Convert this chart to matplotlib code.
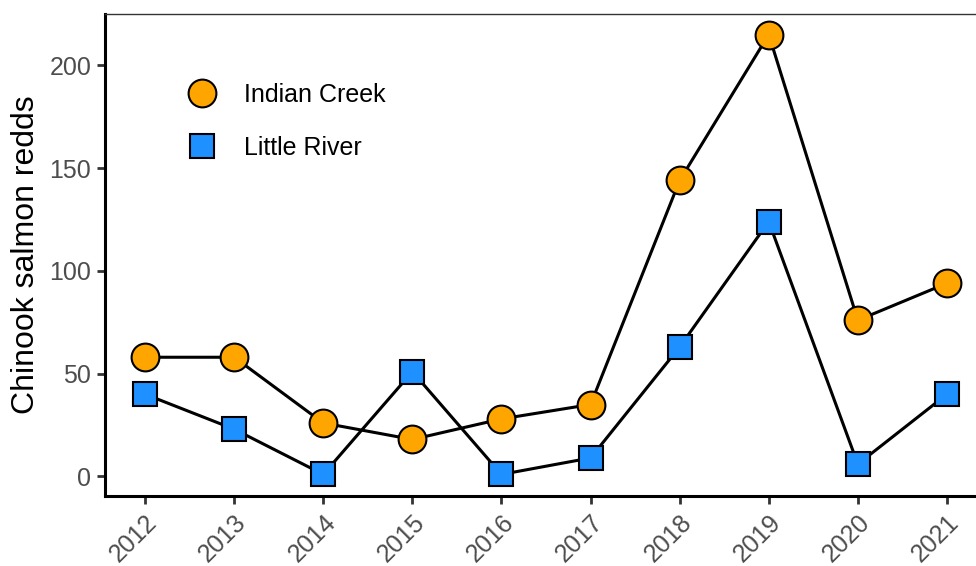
import matplotlib.pyplot as plt

plt.rcParams['font.family'] = ['Liberation Sans', 'DejaVu Sans']

# --- data ---
years = [2012, 2013, 2014, 2015, 2016, 2017, 2018, 2019, 2020, 2021]
indian_creek = [58, 58, 26, 18, 28, 35, 144, 215, 76, 94]
little_river = [40, 23, 1, 51, 1, 9, 63, 124, 6, 40]
yticks = [0, 50, 100, 150, 200]

fig = plt.figure(figsize=(9.76, 5.66), dpi=100)
ax = fig.add_axes([0.1076, 0.1237, 0.9037, 0.8516])

ax.plot(years, indian_creek, color="black", lw=2.2, zorder=2)
ax.plot(years, little_river, color="black", lw=2.2, zorder=2)
ax.plot(years, indian_creek, ls="none", marker="o", ms=20, mfc="#FFA500",
        mec="black", mew=1.5, zorder=3, label="Indian Creek")
ax.plot(years, little_river, ls="none", marker="s", ms=17.5, mfc="#1E90FF",
        mec="black", mew=1.5, zorder=3, label="Little River")

ax.set_xlim(2011.55, 2021.45)
ax.set_ylim(-9.5, 225)
ax.set_xticks(years)
ax.set_xticklabels([str(y) for y in years], rotation=45, ha="right",
                   rotation_mode="anchor")
ax.set_yticks(yticks)
ax.tick_params(axis="both", labelsize=18, labelcolor="#4D4D4D",
               color="#333333", length=6, width=2, pad=4)
ax.set_ylabel("Chinook salmon redds", fontsize=23, labelpad=6)

for side in ["left", "bottom"]:
    ax.spines[side].set_linewidth(2.2)
    ax.spines[side].set_color("black")
ax.spines["top"].set_linewidth(1.0)
ax.spines["top"].set_color("#333333")
ax.spines["right"].set_visible(False)

leg = ax.legend(loc="upper left", bbox_to_anchor=(0.082, 0.857), frameon=False,
                fontsize=18, handletextpad=0.65, labelspacing=1.15,
                handlelength=2.0, borderaxespad=0, borderpad=0)

fig.savefig("out.png", dpi=100)
